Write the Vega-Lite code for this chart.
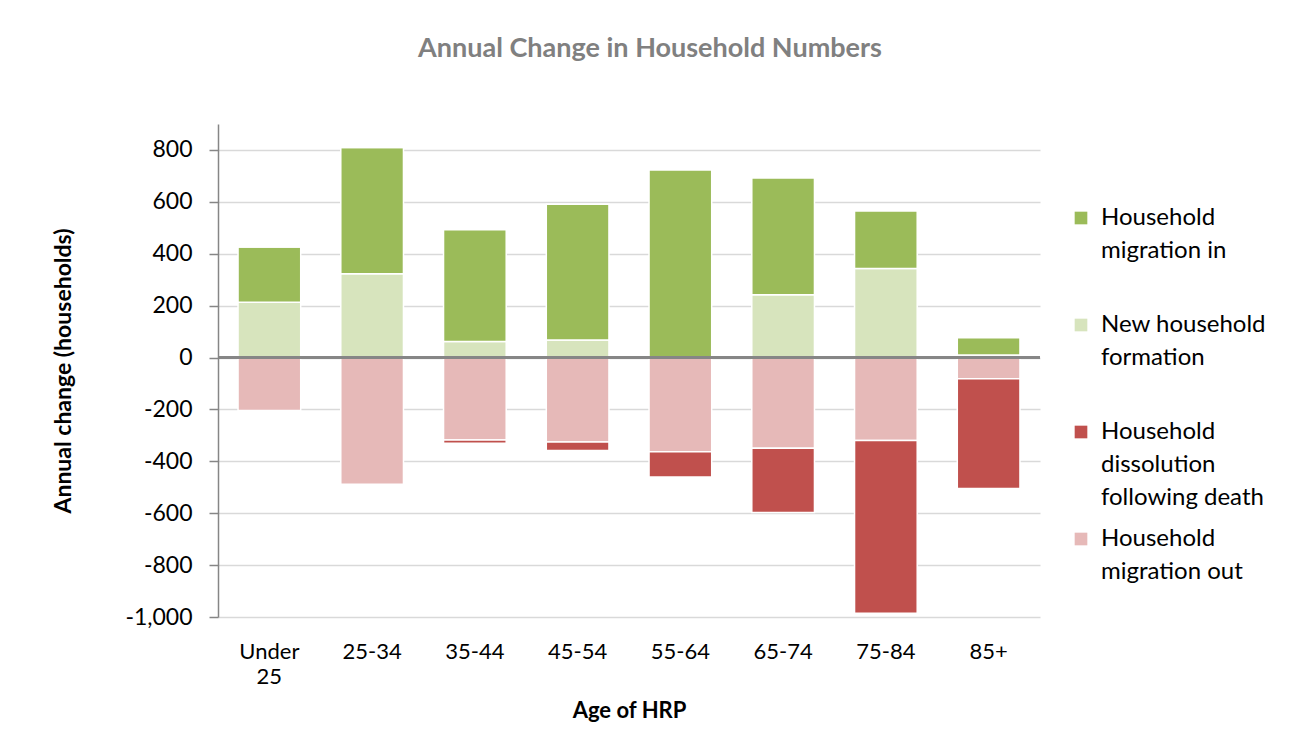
{
  "$schema": "https://vega.github.io/schema/vega-lite/v6.json",
  "width": 822,
  "height": 493,
  "padding": {"left": 52, "top": 35, "right": 5, "bottom": 5},
  "background": "white",
  "title": {
    "text": "Annual Change in Household Numbers",
    "fontSize": 27,
    "fontWeight": "bold",
    "color": "#808080",
    "anchor": "middle",
    "frame": "group",
    "dx": 21,
    "offset": 61
  },
  "data": {
    "values": [
      {"age": "Under 25", "component": "New household formation", "ord": 1, "value": 213},
      {"age": "Under 25", "component": "Household migration in", "ord": 2, "value": 213},
      {"age": "Under 25", "component": "Household migration out", "ord": 3, "value": -204},
      {"age": "Under 25", "component": "Household dissolution following death", "ord": 4, "value": 0},
      {"age": "25-34", "component": "New household formation", "ord": 1, "value": 323},
      {"age": "25-34", "component": "Household migration in", "ord": 2, "value": 486},
      {"age": "25-34", "component": "Household migration out", "ord": 3, "value": -488},
      {"age": "25-34", "component": "Household dissolution following death", "ord": 4, "value": 0},
      {"age": "35-44", "component": "New household formation", "ord": 1, "value": 62},
      {"age": "35-44", "component": "Household migration in", "ord": 2, "value": 430},
      {"age": "35-44", "component": "Household migration out", "ord": 3, "value": -318},
      {"age": "35-44", "component": "Household dissolution following death", "ord": 4, "value": -12},
      {"age": "45-54", "component": "New household formation", "ord": 1, "value": 68},
      {"age": "45-54", "component": "Household migration in", "ord": 2, "value": 523},
      {"age": "45-54", "component": "Household migration out", "ord": 3, "value": -326},
      {"age": "45-54", "component": "Household dissolution following death", "ord": 4, "value": -32},
      {"age": "55-64", "component": "New household formation", "ord": 1, "value": 0},
      {"age": "55-64", "component": "Household migration in", "ord": 2, "value": 723},
      {"age": "55-64", "component": "Household migration out", "ord": 3, "value": -363},
      {"age": "55-64", "component": "Household dissolution following death", "ord": 4, "value": -97},
      {"age": "65-74", "component": "New household formation", "ord": 1, "value": 242},
      {"age": "65-74", "component": "Household migration in", "ord": 2, "value": 450},
      {"age": "65-74", "component": "Household migration out", "ord": 3, "value": -350},
      {"age": "65-74", "component": "Household dissolution following death", "ord": 4, "value": -247},
      {"age": "75-84", "component": "New household formation", "ord": 1, "value": 343},
      {"age": "75-84", "component": "Household migration in", "ord": 2, "value": 222},
      {"age": "75-84", "component": "Household migration out", "ord": 3, "value": -320},
      {"age": "75-84", "component": "Household dissolution following death", "ord": 4, "value": -666},
      {"age": "85+", "component": "New household formation", "ord": 1, "value": 10},
      {"age": "85+", "component": "Household migration in", "ord": 2, "value": 66},
      {"age": "85+", "component": "Household migration out", "ord": 3, "value": -82},
      {"age": "85+", "component": "Household dissolution following death", "ord": 4, "value": -423}
    ]
  },
  "layer": [
    {
      "mark": {"type": "bar", "stroke": "white", "strokeWidth": 1.5},
      "encoding": {
        "x": {
          "field": "age",
          "type": "nominal",
          "sort": ["Under 25", "25-34", "35-44", "45-54", "55-64", "65-74", "75-84", "85+"],
          "scale": {"paddingInner": 0.39, "paddingOuter": 0.195},
          "title": "Age of HRP",
          "axis": {
            "labelAngle": 0,
            "domain": false,
            "ticks": false,
            "grid": false,
            "labelFontSize": 22,
            "labelColor": "#000000",
            "labelPadding": 24,
            "labelLineHeight": 25,
            "labelExpr": "datum.value == 'Under 25' ? ['Under', '25'] : datum.value",
            "titleFontSize": 22,
            "titleFontWeight": "bold",
            "titleColor": "#000000",
            "titlePadding": 13
          }
        },
        "y": {
          "field": "value",
          "type": "quantitative",
          "stack": "zero",
          "scale": {"domain": [-1000, 900], "nice": false, "zero": false},
          "title": "Annual change (households)",
          "axis": {
            "values": [-1000, -800, -600, -400, -200, 0, 200, 400, 600, 800],
            "labelExpr": "datum.value < 0 ? '-' + format(-datum.value, ',') : format(datum.value, ',')",
            "grid": true,
            "gridColor": "#D9D9D9",
            "gridWidth": 1.5,
            "domain": true,
            "domainColor": "#868686",
            "domainWidth": 1.5,
            "ticks": true,
            "tickColor": "#868686",
            "tickWidth": 1.5,
            "tickSize": 9,
            "labelFontSize": 23,
            "labelColor": "#000000",
            "labelPadding": 17,
            "titleFontSize": 23,
            "titleFontWeight": "bold",
            "titleColor": "#000000",
            "titlePadding": 49
          }
        },
        "color": {
          "field": "component",
          "type": "nominal",
          "scale": {
            "domain": ["Household migration in", "New household formation", "Household dissolution following death", "Household migration out"],
            "range": ["#9BBB59", "#D7E4BD", "#C0504D", "#E6B9B8"]
          },
          "legend": {
            "title": null,
            "orient": "none",
            "legendX": 851,
            "legendY": 82,
            "symbolType": "square",
            "symbolSize": 160,
            "symbolStrokeWidth": 0,
            "labelFontSize": 24,
            "labelColor": "#000000",
            "labelOffset": 8,
            "labelLimit": 400,
            "labelBaseline": "middle",
            "gridAlign": "all",
            "rowPadding": 17,
            "padding": 0,
            "labelExpr": "datum.label == 'Household migration in' ? ['Household', 'migration in'] : datum.label == 'New household formation' ? ['New household', 'formation'] : datum.label == 'Household dissolution following death' ? ['Household', 'dissolution', 'following death'] : ['Household', 'migration out']"
          }
        },
        "order": {"field": "ord", "type": "quantitative"}
      }
    },
    {
      "mark": {"type": "rule", "color": "#868686", "strokeWidth": 2.5},
      "encoding": {"y": {"datum": 0}}
    }
  ],
  "config": {
    "font": "Lato",
    "view": {"stroke": null},
    "style": {"guide-label": {"lineHeight": 33}}
  }
}
